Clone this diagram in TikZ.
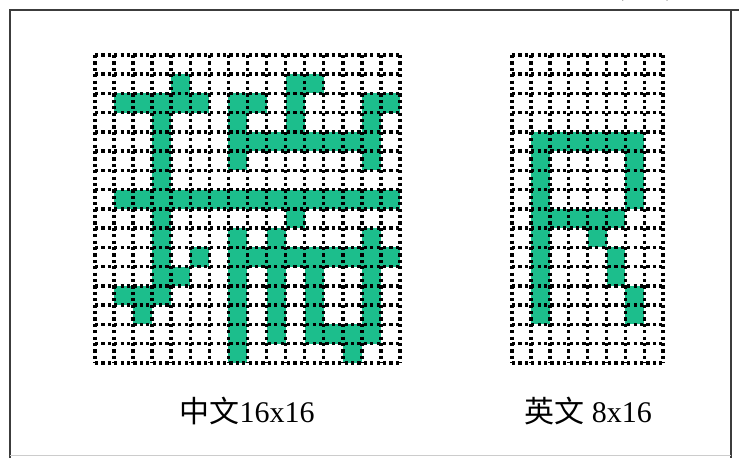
\documentclass[tikz,border=0pt]{standalone}
\usepackage{fontspec}
\setmainfont{Liberation Serif}
\newfontfamily\cjk{Noto Sans CJK SC}
\definecolor{pixgreen}{RGB}{28,190,140}
\definecolor{framegray}{RGB}{60,60,60}
\begin{document}
\begin{tikzpicture}[x=1pt,y=1pt,
  pixfill/.style={fill=pixgreen},
  gridln/.style={draw=black,line width=3.5pt,dash pattern=on 3.2pt off 3.2pt},
  lbl/.style={font=\fontsize{30}{32}\selectfont,inner sep=0pt},
  framel/.style={draw=framegray,line width=1.8pt}]
\useasboundingbox (0,0) rectangle (739,458);
\fill[white] (0,0) rectangle (739,458);
% frame
\draw[framel] (10,0) -- (10,448) -- (739,448);
\draw[framel] (731,448) -- (731,0);
\draw[draw=gray!40,line width=1pt] (10,3) -- (731,3);
% clipped caption fragment at top
\node[font=\fontsize{22}{22}\selectfont,anchor=base,inner sep=0pt] (topparen) at (645,461) {(\hspace{42pt})};
% Chinese 16x16 bitmap
\begin{scope}[shift={(95,403)},x=19.06pt,y=19.25pt]
\foreach \c/\r in {4/1,10/1,11/1,
  1/2,2/2,3/2,4/2,5/2,7/2,8/2,10/2,14/2,15/2,
  3/3,7/3,10/3,14/3,
  3/4,7/4,8/4,9/4,10/4,11/4,12/4,13/4,14/4,
  3/5,7/5,14/5,
  3/6,
  1/7,2/7,3/7,4/7,5/7,6/7,7/7,8/7,9/7,10/7,11/7,12/7,13/7,14/7,15/7,
  3/8,10/8,
  3/9,7/9,9/9,14/9,
  3/10,5/10,7/10,8/10,9/10,10/10,11/10,12/10,13/10,14/10,15/10,
  3/11,4/11,7/11,9/11,11/11,14/11,
  1/12,2/12,3/12,7/12,9/12,11/12,14/12,
  2/13,7/13,9/13,11/13,14/13,
  7/14,9/14,11/14,12/14,13/14,14/14,
  7/15,13/15}
  \fill[pixfill] (\c,-\r) rectangle ++(1,-1);
\foreach \i in {0,...,16} \draw[gridln] (\i,0) -- (\i,-16);
\foreach \j in {0,...,16} \draw[gridln] (0,-\j) -- (16,-\j);
\end{scope}
% English 8x16 bitmap
\begin{scope}[shift={(512,403)},x=18.9pt,y=19.25pt]
\foreach \c/\r in {1/4,2/4,3/4,4/4,5/4,6/4,
  1/5,6/5,1/6,6/6,1/7,6/7,
  1/8,2/8,3/8,4/8,5/8,
  1/9,4/9,1/10,5/10,1/11,5/11,1/12,6/12,1/13,6/13}
  \fill[pixfill] (\c,-\r) rectangle ++(1,-1);
\foreach \i in {0,...,8} \draw[gridln] (\i,0) -- (\i,-16);
\foreach \j in {0,...,16} \draw[gridln] (0,-\j) -- (8,-\j);
\end{scope}
% labels
\node[lbl] (cnlabel) at (247,47) {{\cjk 中文}16x16};
\node[lbl] (enlabel) at (588,47) {{\cjk 英文} 8x16};
\end{tikzpicture}
\end{document}
